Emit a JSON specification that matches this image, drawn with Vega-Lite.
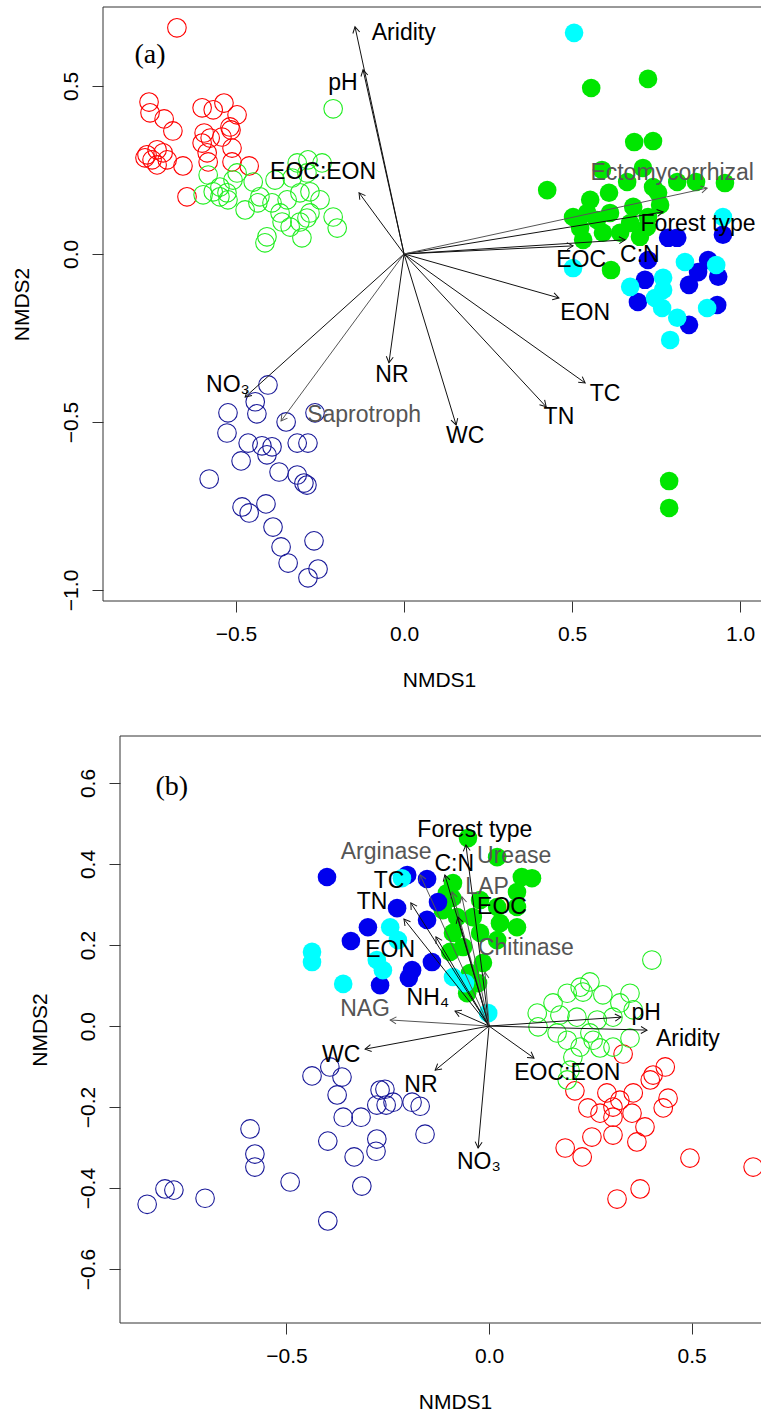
{
"$schema": "https://vega.github.io/schema/vega-lite/v6.json",
"autosize": {"type": "none"},
"padding": {"left": 103, "top": 7, "right": 658, "bottom": 1407},
"background": "white",
"bounds": "flush",
"spacing": 135,
"datasets": {
"ptsA": [
{"x":-0.676,"y":0.673,"g":"s1"},{"x":-0.759,"y":0.452,"g":"s1"},{"x":-0.756,"y":0.420,"g":"s1"},{"x":-0.714,"y":0.402,"g":"s1"},{"x":-0.688,"y":0.366,"g":"s1"},{"x":-0.765,"y":0.295,"g":"s1"},{"x":-0.735,"y":0.310,"g":"s1"},{"x":-0.717,"y":0.301,"g":"s1"},{"x":-0.735,"y":0.265,"g":"s1"},{"x":-0.705,"y":0.280,"g":"s1"},{"x":-0.658,"y":0.262,"g":"s1"},{"x":-0.601,"y":0.435,"g":"s1"},{"x":-0.568,"y":0.429,"g":"s1"},{"x":-0.536,"y":0.449,"g":"s1"},{"x":-0.497,"y":0.414,"g":"s1"},{"x":-0.518,"y":0.378,"g":"s1"},{"x":-0.515,"y":0.369,"g":"s1"},{"x":-0.595,"y":0.360,"g":"s1"},{"x":-0.601,"y":0.330,"g":"s1"},{"x":-0.577,"y":0.345,"g":"s1"},{"x":-0.542,"y":0.348,"g":"s1"},{"x":-0.512,"y":0.315,"g":"s1"},{"x":-0.586,"y":0.301,"g":"s1"},{"x":-0.583,"y":0.274,"g":"s1"},{"x":-0.512,"y":0.274,"g":"s1"},{"x":-0.461,"y":0.262,"g":"s1"},{"x":-0.646,"y":0.170,"g":"s1"},{"x":-0.750,"y":0.280,"g":"s1"},{"x":-0.771,"y":0.286,"g":"s1"},
{"x":-0.211,"y":0.432,"g":"s2"},{"x":-0.583,"y":0.235,"g":"s2"},{"x":-0.598,"y":0.176,"g":"s2"},{"x":-0.568,"y":0.185,"g":"s2"},{"x":-0.548,"y":0.170,"g":"s2"},{"x":-0.524,"y":0.161,"g":"s2"},{"x":-0.509,"y":0.220,"g":"s2"},{"x":-0.497,"y":0.241,"g":"s2"},{"x":-0.449,"y":0.214,"g":"s2"},{"x":-0.473,"y":0.131,"g":"s2"},{"x":-0.435,"y":0.152,"g":"s2"},{"x":-0.393,"y":0.152,"g":"s2"},{"x":-0.384,"y":0.220,"g":"s2"},{"x":-0.348,"y":0.161,"g":"s2"},{"x":-0.318,"y":0.271,"g":"s2"},{"x":-0.286,"y":0.280,"g":"s2"},{"x":-0.244,"y":0.271,"g":"s2"},{"x":-0.333,"y":0.226,"g":"s2"},{"x":-0.310,"y":0.182,"g":"s2"},{"x":-0.280,"y":0.185,"g":"s2"},{"x":-0.250,"y":0.161,"g":"s2"},{"x":-0.369,"y":0.122,"g":"s2"},{"x":-0.363,"y":0.095,"g":"s2"},{"x":-0.339,"y":0.080,"g":"s2"},{"x":-0.310,"y":0.095,"g":"s2"},{"x":-0.289,"y":0.107,"g":"s2"},{"x":-0.280,"y":0.122,"g":"s2"},{"x":-0.211,"y":0.110,"g":"s2"},{"x":-0.199,"y":0.077,"g":"s2"},{"x":-0.408,"y":0.051,"g":"s2"},{"x":-0.414,"y":0.033,"g":"s2"},{"x":-0.304,"y":0.048,"g":"s2"},{"x":-0.527,"y":0.182,"g":"s2"},{"x":-0.548,"y":0.199,"g":"s2"},{"x":-0.429,"y":0.170,"g":"s2"},{"x":-0.289,"y":0.241,"g":"s2"},
{"x":-0.405,"y":-0.390,"g":"s3"},{"x":-0.443,"y":-0.440,"g":"s3"},{"x":-0.438,"y":-0.476,"g":"s3"},{"x":-0.524,"y":-0.473,"g":"s3"},{"x":-0.527,"y":-0.533,"g":"s3"},{"x":-0.351,"y":-0.500,"g":"s3"},{"x":-0.265,"y":-0.473,"g":"s3"},{"x":-0.464,"y":-0.563,"g":"s3"},{"x":-0.423,"y":-0.571,"g":"s3"},{"x":-0.393,"y":-0.574,"g":"s3"},{"x":-0.408,"y":-0.598,"g":"s3"},{"x":-0.318,"y":-0.563,"g":"s3"},{"x":-0.286,"y":-0.563,"g":"s3"},{"x":-0.485,"y":-0.616,"g":"s3"},{"x":-0.372,"y":-0.649,"g":"s3"},{"x":-0.318,"y":-0.658,"g":"s3"},{"x":-0.298,"y":-0.682,"g":"s3"},{"x":-0.289,"y":-0.688,"g":"s3"},{"x":-0.580,"y":-0.670,"g":"s3"},{"x":-0.482,"y":-0.753,"g":"s3"},{"x":-0.461,"y":-0.771,"g":"s3"},{"x":-0.411,"y":-0.744,"g":"s3"},{"x":-0.390,"y":-0.813,"g":"s3"},{"x":-0.366,"y":-0.872,"g":"s3"},{"x":-0.268,"y":-0.854,"g":"s3"},{"x":-0.345,"y":-0.920,"g":"s3"},{"x":-0.256,"y":-0.938,"g":"s3"},{"x":-0.286,"y":-0.964,"g":"s3"},
{"x":0.557,"y":0.494,"g":"s4"},{"x":0.726,"y":0.521,"g":"s4"},{"x":0.685,"y":0.333,"g":"s4"},{"x":0.741,"y":0.336,"g":"s4"},{"x":0.426,"y":0.190,"g":"s4"},{"x":0.589,"y":0.250,"g":"s4"},{"x":0.711,"y":0.256,"g":"s4"},{"x":0.664,"y":0.214,"g":"s4"},{"x":0.610,"y":0.182,"g":"s4"},{"x":0.554,"y":0.161,"g":"s4"},{"x":0.756,"y":0.182,"g":"s4"},{"x":0.813,"y":0.214,"g":"s4"},{"x":0.869,"y":0.214,"g":"s4"},{"x":0.955,"y":0.211,"g":"s4"},{"x":0.503,"y":0.110,"g":"s4"},{"x":0.545,"y":0.122,"g":"s4"},{"x":0.613,"y":0.122,"g":"s4"},{"x":0.682,"y":0.140,"g":"s4"},{"x":0.726,"y":0.110,"g":"s4"},{"x":0.533,"y":0.042,"g":"s4"},{"x":0.592,"y":0.063,"g":"s4"},{"x":0.643,"y":0.063,"g":"s4"},{"x":0.702,"y":0.051,"g":"s4"},{"x":0.723,"y":0.080,"g":"s4"},{"x":0.616,"y":-0.048,"g":"s4"},{"x":0.673,"y":0.092,"g":"s4"},{"x":0.574,"y":0.101,"g":"s4"},{"x":0.741,"y":0.199,"g":"s4"},{"x":0.789,"y":-0.676,"g":"s4"},{"x":0.789,"y":-0.756,"g":"s4"},{"x":0.524,"y":0.077,"g":"s4"},{"x":0.762,"y":0.146,"g":"s4"},
{"x":0.786,"y":0.048,"g":"s5"},{"x":0.813,"y":0.048,"g":"s5"},{"x":0.726,"y":-0.018,"g":"s5"},{"x":0.717,"y":-0.077,"g":"s5"},{"x":0.696,"y":-0.143,"g":"s5"},{"x":0.905,"y":-0.018,"g":"s5"},{"x":0.875,"y":-0.054,"g":"s5"},{"x":0.935,"y":-0.068,"g":"s5"},{"x":0.848,"y":-0.092,"g":"s5"},{"x":0.932,"y":-0.152,"g":"s5"},{"x":0.848,"y":-0.211,"g":"s5"},{"x":0.949,"y":0.057,"g":"s5"},
{"x":0.506,"y":0.658,"g":"s6"},{"x":0.503,"y":-0.042,"g":"s6"},{"x":0.673,"y":-0.098,"g":"s6"},{"x":0.771,"y":-0.071,"g":"s6"},{"x":0.836,"y":-0.024,"g":"s6"},{"x":0.771,"y":-0.107,"g":"s6"},{"x":0.768,"y":-0.161,"g":"s6"},{"x":0.813,"y":-0.190,"g":"s6"},{"x":0.792,"y":-0.256,"g":"s6"},{"x":0.902,"y":-0.161,"g":"s6"},{"x":0.929,"y":-0.033,"g":"s6"},{"x":0.949,"y":0.110,"g":"s6"},{"x":0.747,"y":-0.131,"g":"s6"}
],
"arrA": [
{"v":"Aridity","x":-0.146,"y":0.676,"k":"e"},{"v":"pH","x":-0.122,"y":0.548,"k":"e"},{"v":"EOC:EON","x":-0.134,"y":0.182,"k":"e"},{"v":"NO₃","x":-0.473,"y":-0.426,"k":"e"},{"v":"Saprotroph","x":-0.366,"y":-0.497,"k":"f"},{"v":"NR","x":-0.045,"y":-0.324,"k":"e"},{"v":"WC","x":0.155,"y":-0.509,"k":"e"},{"v":"TN","x":0.423,"y":-0.455,"k":"e"},{"v":"TC","x":0.539,"y":-0.384,"k":"e"},{"v":"EON","x":0.461,"y":-0.131,"k":"e"},{"v":"EOC","x":0.503,"y":0.024,"k":"e"},{"v":"C:N","x":0.658,"y":0.042,"k":"e"},{"v":"Forest type","x":0.771,"y":0.125,"k":"e"},{"v":"Ectomycorrhizal","x":0.902,"y":0.196,"k":"f"}
],
"labA": [
{"v":"Aridity","x":-0.001,"y":0.658,"k":"e"},{"v":"pH","x":-0.182,"y":0.509,"k":"e"},{"v":"EOC:EON","x":-0.241,"y":0.244,"k":"e"},{"v":"NO₃","x":-0.524,"y":-0.390,"k":"e"},{"v":"Saprotroph","x":-0.119,"y":-0.479,"k":"f"},{"v":"NR","x":-0.036,"y":-0.360,"k":"e"},{"v":"WC","x":0.182,"y":-0.542,"k":"e"},{"v":"TN","x":0.461,"y":-0.485,"k":"e"},{"v":"TC","x":0.598,"y":-0.417,"k":"e"},{"v":"EON","x":0.539,"y":-0.176,"k":"e"},{"v":"EOC","x":0.527,"y":-0.018,"k":"e"},{"v":"C:N","x":0.702,"y":-0.003,"k":"e"},{"v":"Forest type","x":0.875,"y":0.089,"k":"e"},{"v":"Ectomycorrhizal","x":0.798,"y":0.241,"k":"f"}
],
"ptsB": [
{"x":0.331,"y":-0.069,"g":"s1"},{"x":0.435,"y":-0.101,"g":"s1"},{"x":0.405,"y":-0.121,"g":"s1"},{"x":0.398,"y":-0.133,"g":"s1"},{"x":0.212,"y":-0.160,"g":"s1"},{"x":0.291,"y":-0.165,"g":"s1"},{"x":0.323,"y":-0.183,"g":"s1"},{"x":0.356,"y":-0.165,"g":"s1"},{"x":0.442,"y":-0.178,"g":"s1"},{"x":0.430,"y":-0.202,"g":"s1"},{"x":0.244,"y":-0.202,"g":"s1"},{"x":0.274,"y":-0.215,"g":"s1"},{"x":0.306,"y":-0.225,"g":"s1"},{"x":0.353,"y":-0.215,"g":"s1"},{"x":0.385,"y":-0.249,"g":"s1"},{"x":0.254,"y":-0.274,"g":"s1"},{"x":0.306,"y":-0.269,"g":"s1"},{"x":0.365,"y":-0.286,"g":"s1"},{"x":0.188,"y":-0.301,"g":"s1"},{"x":0.230,"y":-0.323,"g":"s1"},{"x":0.306,"y":-0.200,"g":"s1"},{"x":0.496,"y":-0.326,"g":"s1"},{"x":0.652,"y":-0.348,"g":"s1"},{"x":0.373,"y":-0.402,"g":"s1"},{"x":0.316,"y":-0.427,"g":"s1"},
{"x":0.402,"y":0.163,"g":"s2"},{"x":0.119,"y":0.032,"g":"s2"},{"x":0.158,"y":0.057,"g":"s2"},{"x":0.193,"y":0.081,"g":"s2"},{"x":0.225,"y":0.096,"g":"s2"},{"x":0.249,"y":0.109,"g":"s2"},{"x":0.281,"y":0.077,"g":"s2"},{"x":0.348,"y":0.081,"g":"s2"},{"x":0.232,"y":0.084,"g":"s2"},{"x":0.175,"y":0.027,"g":"s2"},{"x":0.217,"y":0.022,"g":"s2"},{"x":0.267,"y":0.015,"g":"s2"},{"x":0.306,"y":0.022,"g":"s2"},{"x":0.356,"y":0.040,"g":"s2"},{"x":0.323,"y":0.057,"g":"s2"},{"x":0.121,"y":-0.002,"g":"s2"},{"x":0.168,"y":-0.017,"g":"s2"},{"x":0.193,"y":-0.035,"g":"s2"},{"x":0.225,"y":-0.052,"g":"s2"},{"x":0.257,"y":-0.035,"g":"s2"},{"x":0.274,"y":-0.054,"g":"s2"},{"x":0.306,"y":-0.052,"g":"s2"},{"x":0.348,"y":-0.030,"g":"s2"},{"x":0.249,"y":-0.017,"g":"s2"},{"x":0.207,"y":-0.077,"g":"s2"},{"x":0.200,"y":-0.109,"g":"s2"},{"x":0.193,"y":-0.133,"g":"s2"},
{"x":-0.844,"y":-0.440,"g":"s3"},{"x":-0.800,"y":-0.402,"g":"s3"},{"x":-0.778,"y":-0.405,"g":"s3"},{"x":-0.701,"y":-0.425,"g":"s3"},{"x":-0.590,"y":-0.254,"g":"s3"},{"x":-0.578,"y":-0.316,"g":"s3"},{"x":-0.578,"y":-0.348,"g":"s3"},{"x":-0.491,"y":-0.385,"g":"s3"},{"x":-0.398,"y":-0.481,"g":"s3"},{"x":-0.398,"y":-0.284,"g":"s3"},{"x":-0.437,"y":-0.123,"g":"s3"},{"x":-0.393,"y":-0.101,"g":"s3"},{"x":-0.363,"y":-0.126,"g":"s3"},{"x":-0.375,"y":-0.170,"g":"s3"},{"x":-0.360,"y":-0.225,"g":"s3"},{"x":-0.316,"y":-0.225,"g":"s3"},{"x":-0.333,"y":-0.323,"g":"s3"},{"x":-0.314,"y":-0.395,"g":"s3"},{"x":-0.277,"y":-0.279,"g":"s3"},{"x":-0.279,"y":-0.309,"g":"s3"},{"x":-0.257,"y":-0.156,"g":"s3"},{"x":-0.277,"y":-0.195,"g":"s3"},{"x":-0.254,"y":-0.195,"g":"s3"},{"x":-0.237,"y":-0.188,"g":"s3"},{"x":-0.190,"y":-0.188,"g":"s3"},{"x":-0.170,"y":-0.198,"g":"s3"},{"x":-0.158,"y":-0.267,"g":"s3"},{"x":-0.269,"y":-0.158,"g":"s3"},
{"x":-0.052,"y":0.464,"g":"s4"},{"x":0.020,"y":0.417,"g":"s4"},{"x":0.081,"y":0.368,"g":"s4"},{"x":0.106,"y":0.365,"g":"s4"},{"x":-0.089,"y":0.353,"g":"s4"},{"x":0.069,"y":0.331,"g":"s4"},{"x":-0.091,"y":0.316,"g":"s4"},{"x":-0.022,"y":0.311,"g":"s4"},{"x":0.020,"y":0.294,"g":"s4"},{"x":0.069,"y":0.294,"g":"s4"},{"x":-0.079,"y":0.269,"g":"s4"},{"x":-0.040,"y":0.269,"g":"s4"},{"x":0.027,"y":0.254,"g":"s4"},{"x":0.069,"y":0.244,"g":"s4"},{"x":-0.089,"y":0.230,"g":"s4"},{"x":-0.022,"y":0.230,"g":"s4"},{"x":-0.064,"y":0.195,"g":"s4"},{"x":0.020,"y":0.212,"g":"s4"},{"x":-0.015,"y":0.156,"g":"s4"},{"x":-0.047,"y":0.131,"g":"s4"},{"x":-0.054,"y":0.081,"g":"s4"},{"x":-0.027,"y":0.106,"g":"s4"},{"x":-0.096,"y":0.183,"g":"s4"},{"x":-0.114,"y":0.286,"g":"s4"},{"x":-0.104,"y":0.328,"g":"s4"},
{"x":-0.400,"y":0.368,"g":"s5"},{"x":-0.202,"y":0.373,"g":"s5"},{"x":-0.153,"y":0.363,"g":"s5"},{"x":-0.227,"y":0.291,"g":"s5"},{"x":-0.299,"y":0.244,"g":"s5"},{"x":-0.341,"y":0.210,"g":"s5"},{"x":-0.153,"y":0.262,"g":"s5"},{"x":-0.126,"y":0.306,"g":"s5"},{"x":-0.141,"y":0.158,"g":"s5"},{"x":-0.190,"y":0.138,"g":"s5"},{"x":-0.198,"y":0.119,"g":"s5"},{"x":-0.269,"y":0.101,"g":"s5"},
{"x":-0.437,"y":0.183,"g":"s6"},{"x":-0.437,"y":0.158,"g":"s6"},{"x":-0.360,"y":0.104,"g":"s6"},{"x":-0.244,"y":0.244,"g":"s6"},{"x":-0.225,"y":0.212,"g":"s6"},{"x":-0.277,"y":0.163,"g":"s6"},{"x":-0.262,"y":0.138,"g":"s6"},{"x":-0.089,"y":0.121,"g":"s6"},{"x":-0.059,"y":0.106,"g":"s6"},{"x":-0.002,"y":0.032,"g":"s6"},{"x":-0.215,"y":0.365,"g":"s6"}
],
"arrB": [
{"v":"Forest type","x":-0.057,"y":0.447,"k":"e"},{"v":"C:N","x":-0.109,"y":0.373,"k":"e"},{"v":"Urease","x":-0.091,"y":0.331,"k":"f"},{"v":"LAP","x":-0.067,"y":0.319,"k":"f"},{"v":"EOC","x":-0.077,"y":0.269,"k":"e"},{"v":"Arginase","x":-0.170,"y":0.373,"k":"f"},{"v":"TC","x":-0.193,"y":0.304,"k":"e"},{"v":"TN","x":-0.210,"y":0.264,"k":"e"},{"v":"EON","x":-0.131,"y":0.220,"k":"e"},{"v":"Chitinase","x":-0.010,"y":0.133,"k":"f"},{"v":"NH₄","x":-0.084,"y":0.037,"k":"e"},{"v":"NAG","x":-0.244,"y":0.015,"k":"f"},{"v":"WC","x":-0.306,"y":-0.057,"k":"e"},{"v":"NR","x":-0.133,"y":-0.109,"k":"e"},{"v":"NO₃","x":-0.027,"y":-0.301,"k":"e"},{"v":"EOC:EON","x":0.111,"y":-0.079,"k":"e"},{"v":"pH","x":0.326,"y":0.022,"k":"e"},{"v":"Aridity","x":0.390,"y":-0.010,"k":"e"}
],
"labB": [
{"v":"Forest type","x":-0.035,"y":0.484,"k":"e"},{"v":"C:N","x":-0.086,"y":0.400,"k":"e"},{"v":"Urease","x":0.062,"y":0.420,"k":"f"},{"v":"LAP","x":-0.005,"y":0.343,"k":"f"},{"v":"EOC","x":0.032,"y":0.294,"k":"e"},{"v":"Arginase","x":-0.254,"y":0.430,"k":"f"},{"v":"TC","x":-0.247,"y":0.358,"k":"e"},{"v":"TN","x":-0.289,"y":0.306,"k":"e"},{"v":"EON","x":-0.244,"y":0.188,"k":"e"},{"v":"Chitinase","x":0.091,"y":0.193,"k":"f"},{"v":"NH₄","x":-0.151,"y":0.069,"k":"e"},{"v":"NAG","x":-0.306,"y":0.042,"k":"f"},{"v":"WC","x":-0.365,"y":-0.072,"k":"e"},{"v":"NR","x":-0.168,"y":-0.146,"k":"e"},{"v":"NO₃","x":-0.025,"y":-0.336,"k":"e"},{"v":"EOC:EON","x":0.193,"y":-0.116,"k":"e"},{"v":"pH","x":0.388,"y":0.032,"k":"e"},{"v":"Aridity","x":0.491,"y":-0.032,"k":"e"}
]
},
"vconcat": [
{
"width": 672, "height": 594,
"encoding": {
"x": {"field": "x", "type": "quantitative", "scale": {"domain": [-0.896, 1.104], "nice": false, "zero": false}, "axis": {"values": [-0.5, 0, 0.5, 1], "format": ".1f", "title": "NMDS1", "titleX": 336, "titleY": 79}},
"y": {"field": "y", "type": "quantitative", "scale": {"domain": [-1.033, 0.735], "nice": false, "zero": false}, "axis": {"values": [-1, -0.5, 0, 0.5], "format": ".1f", "title": "NMDS2", "titleX": -81}}
},
"layer": [
{"data": {"values": [{"x": -0.896, "y": -1.033, "x2": 1.104, "y2": 0.735}]}, "mark": {"type": "rect", "filled": false, "color": "#333333", "strokeWidth": 1}, "encoding": {"x2": {"field": "x2"}, "y2": {"field": "y2"}}},
{"data": {"name": "ptsA"}, "transform": [{"filter": {"field": "g", "oneOf": ["s1", "s2", "s3"]}}], "mark": {"type": "point", "shape": "circle", "filled": false, "size": 346, "strokeWidth": 1.1, "opacity": 1}, "encoding": {"color": {"field": "g", "type": "nominal", "scale": {"domain": ["s1", "s2", "s3", "s4", "s5", "s6"], "range": ["#FF0000", "#22EE22", "#1A1A99", "#00E600", "#0000EE", "#00FFFF"]}, "legend": null}}},
{"data": {"name": "ptsA"}, "transform": [{"filter": {"field": "g", "oneOf": ["s4", "s5", "s6"]}}], "mark": {"type": "circle", "size": 346, "opacity": 1}, "encoding": {"color": {"field": "g", "type": "nominal", "scale": {"domain": ["s1", "s2", "s3", "s4", "s5", "s6"], "range": ["#FF0000", "#22EE22", "#1A1A99", "#00E600", "#0000EE", "#00FFFF"]}, "legend": null}}},
{"data": {"name": "arrA"}, "mark": {"type": "rule", "strokeWidth": 1}, "encoding": {"x2": {"datum": 0}, "y2": {"datum": 0}, "stroke": {"field": "k", "type": "nominal", "scale": {"domain": ["e", "f"], "range": ["#111111", "#555555"]}, "legend": null}}},
{"data": {"name": "arrA"}, "transform": [{"calculate": "atan2(datum.x, datum.y) * 180 / PI", "as": "ang"}], "mark": {"type": "point", "shape": "M-0.5,0.866L0,0L0.5,0.866", "filled": false, "size": 196, "strokeWidth": 1, "opacity": 1}, "encoding": {"angle": {"field": "ang", "type": "quantitative", "scale": null}, "stroke": {"field": "k", "type": "nominal", "scale": {"domain": ["e", "f"], "range": ["#111111", "#555555"]}, "legend": null}}},
{"data": {"name": "labA"}, "mark": {"type": "text", "font": "Liberation Sans", "fontSize": 23, "align": "center", "baseline": "middle"}, "encoding": {"text": {"field": "v"}, "fill": {"field": "k", "type": "nominal", "scale": {"domain": ["e", "f"], "range": ["#000000", "#555555"]}, "legend": null}}},
{"data": {"values": [{"t": "(a)", "x": -0.756, "y": 0.592}]}, "mark": {"type": "text", "font": "Liberation Serif", "fontSize": 28, "align": "center", "baseline": "middle", "color": "#000000"}, "encoding": {"text": {"field": "t"}}}
]
},
{
"width": 687, "height": 587,
"encoding": {
"x": {"field": "x", "type": "quantitative", "scale": {"domain": [-0.953, 0.743], "nice": false, "zero": false}, "axis": {"values": [-0.5, 0, 0.5], "format": ".1f", "title": "NMDS1", "titleX": 352, "titleY": 79}},
"y": {"field": "y", "type": "quantitative", "scale": {"domain": [-0.733, 0.716], "nice": false, "zero": false}, "axis": {"values": [-0.6, -0.4, -0.2, 0, 0.2, 0.4, 0.6], "format": ".1f", "title": "NMDS2", "titleX": -80, "offset": -17}}
},
"layer": [
{"data": {"values": [{"x": -0.911, "y": -0.733, "x2": 0.743, "y2": 0.716}]}, "mark": {"type": "rect", "filled": false, "color": "#333333", "strokeWidth": 1}, "encoding": {"x2": {"field": "x2"}, "y2": {"field": "y2"}}},
{"data": {"name": "ptsB"}, "transform": [{"filter": {"field": "g", "oneOf": ["s1", "s2", "s3"]}}], "mark": {"type": "point", "shape": "circle", "filled": false, "size": 346, "strokeWidth": 1.1, "opacity": 1}, "encoding": {"color": {"field": "g", "type": "nominal", "scale": {"domain": ["s1", "s2", "s3", "s4", "s5", "s6"], "range": ["#FF0000", "#22EE22", "#1A1A99", "#00E600", "#0000EE", "#00FFFF"]}, "legend": null}}},
{"data": {"name": "ptsB"}, "transform": [{"filter": {"field": "g", "oneOf": ["s4", "s5", "s6"]}}], "mark": {"type": "circle", "size": 346, "opacity": 1}, "encoding": {"color": {"field": "g", "type": "nominal", "scale": {"domain": ["s1", "s2", "s3", "s4", "s5", "s6"], "range": ["#FF0000", "#22EE22", "#1A1A99", "#00E600", "#0000EE", "#00FFFF"]}, "legend": null}}},
{"data": {"name": "arrB"}, "mark": {"type": "rule", "strokeWidth": 1}, "encoding": {"x2": {"datum": 0}, "y2": {"datum": 0}, "stroke": {"field": "k", "type": "nominal", "scale": {"domain": ["e", "f"], "range": ["#111111", "#555555"]}, "legend": null}}},
{"data": {"name": "arrB"}, "transform": [{"calculate": "atan2(datum.x, datum.y) * 180 / PI", "as": "ang"}], "mark": {"type": "point", "shape": "M-0.5,0.866L0,0L0.5,0.866", "filled": false, "size": 196, "strokeWidth": 1, "opacity": 1}, "encoding": {"angle": {"field": "ang", "type": "quantitative", "scale": null}, "stroke": {"field": "k", "type": "nominal", "scale": {"domain": ["e", "f"], "range": ["#111111", "#555555"]}, "legend": null}}},
{"data": {"name": "labB"}, "mark": {"type": "text", "font": "Liberation Sans", "fontSize": 23, "align": "center", "baseline": "middle"}, "encoding": {"text": {"field": "v"}, "fill": {"field": "k", "type": "nominal", "scale": {"domain": ["e", "f"], "range": ["#000000", "#555555"]}, "legend": null}}},
{"data": {"values": [{"t": "(b)", "x": -0.783, "y": 0.590}]}, "mark": {"type": "text", "font": "Liberation Serif", "fontSize": 28, "align": "center", "baseline": "middle", "color": "#000000"}, "encoding": {"text": {"field": "t"}}}
]
}
],
"config": {
"view": {"stroke": null},
"font": "Liberation Sans",
"axis": {"domain": false, "grid": false, "ticks": true, "tickSize": 11, "tickColor": "#333333", "tickWidth": 1, "labelFont": "Liberation Sans", "labelFontSize": 21, "labelColor": "#000000", "labelPadding": 11, "labelFlush": false, "labelOverlap": false, "titleFont": "Liberation Sans", "titleFontSize": 21, "titleFontWeight": "normal", "titleColor": "#000000", "titleBaseline": "middle"},
"axisLeft": {"labelAngle": -90, "labelAlign": "center", "labelBaseline": "bottom"}
}
}
